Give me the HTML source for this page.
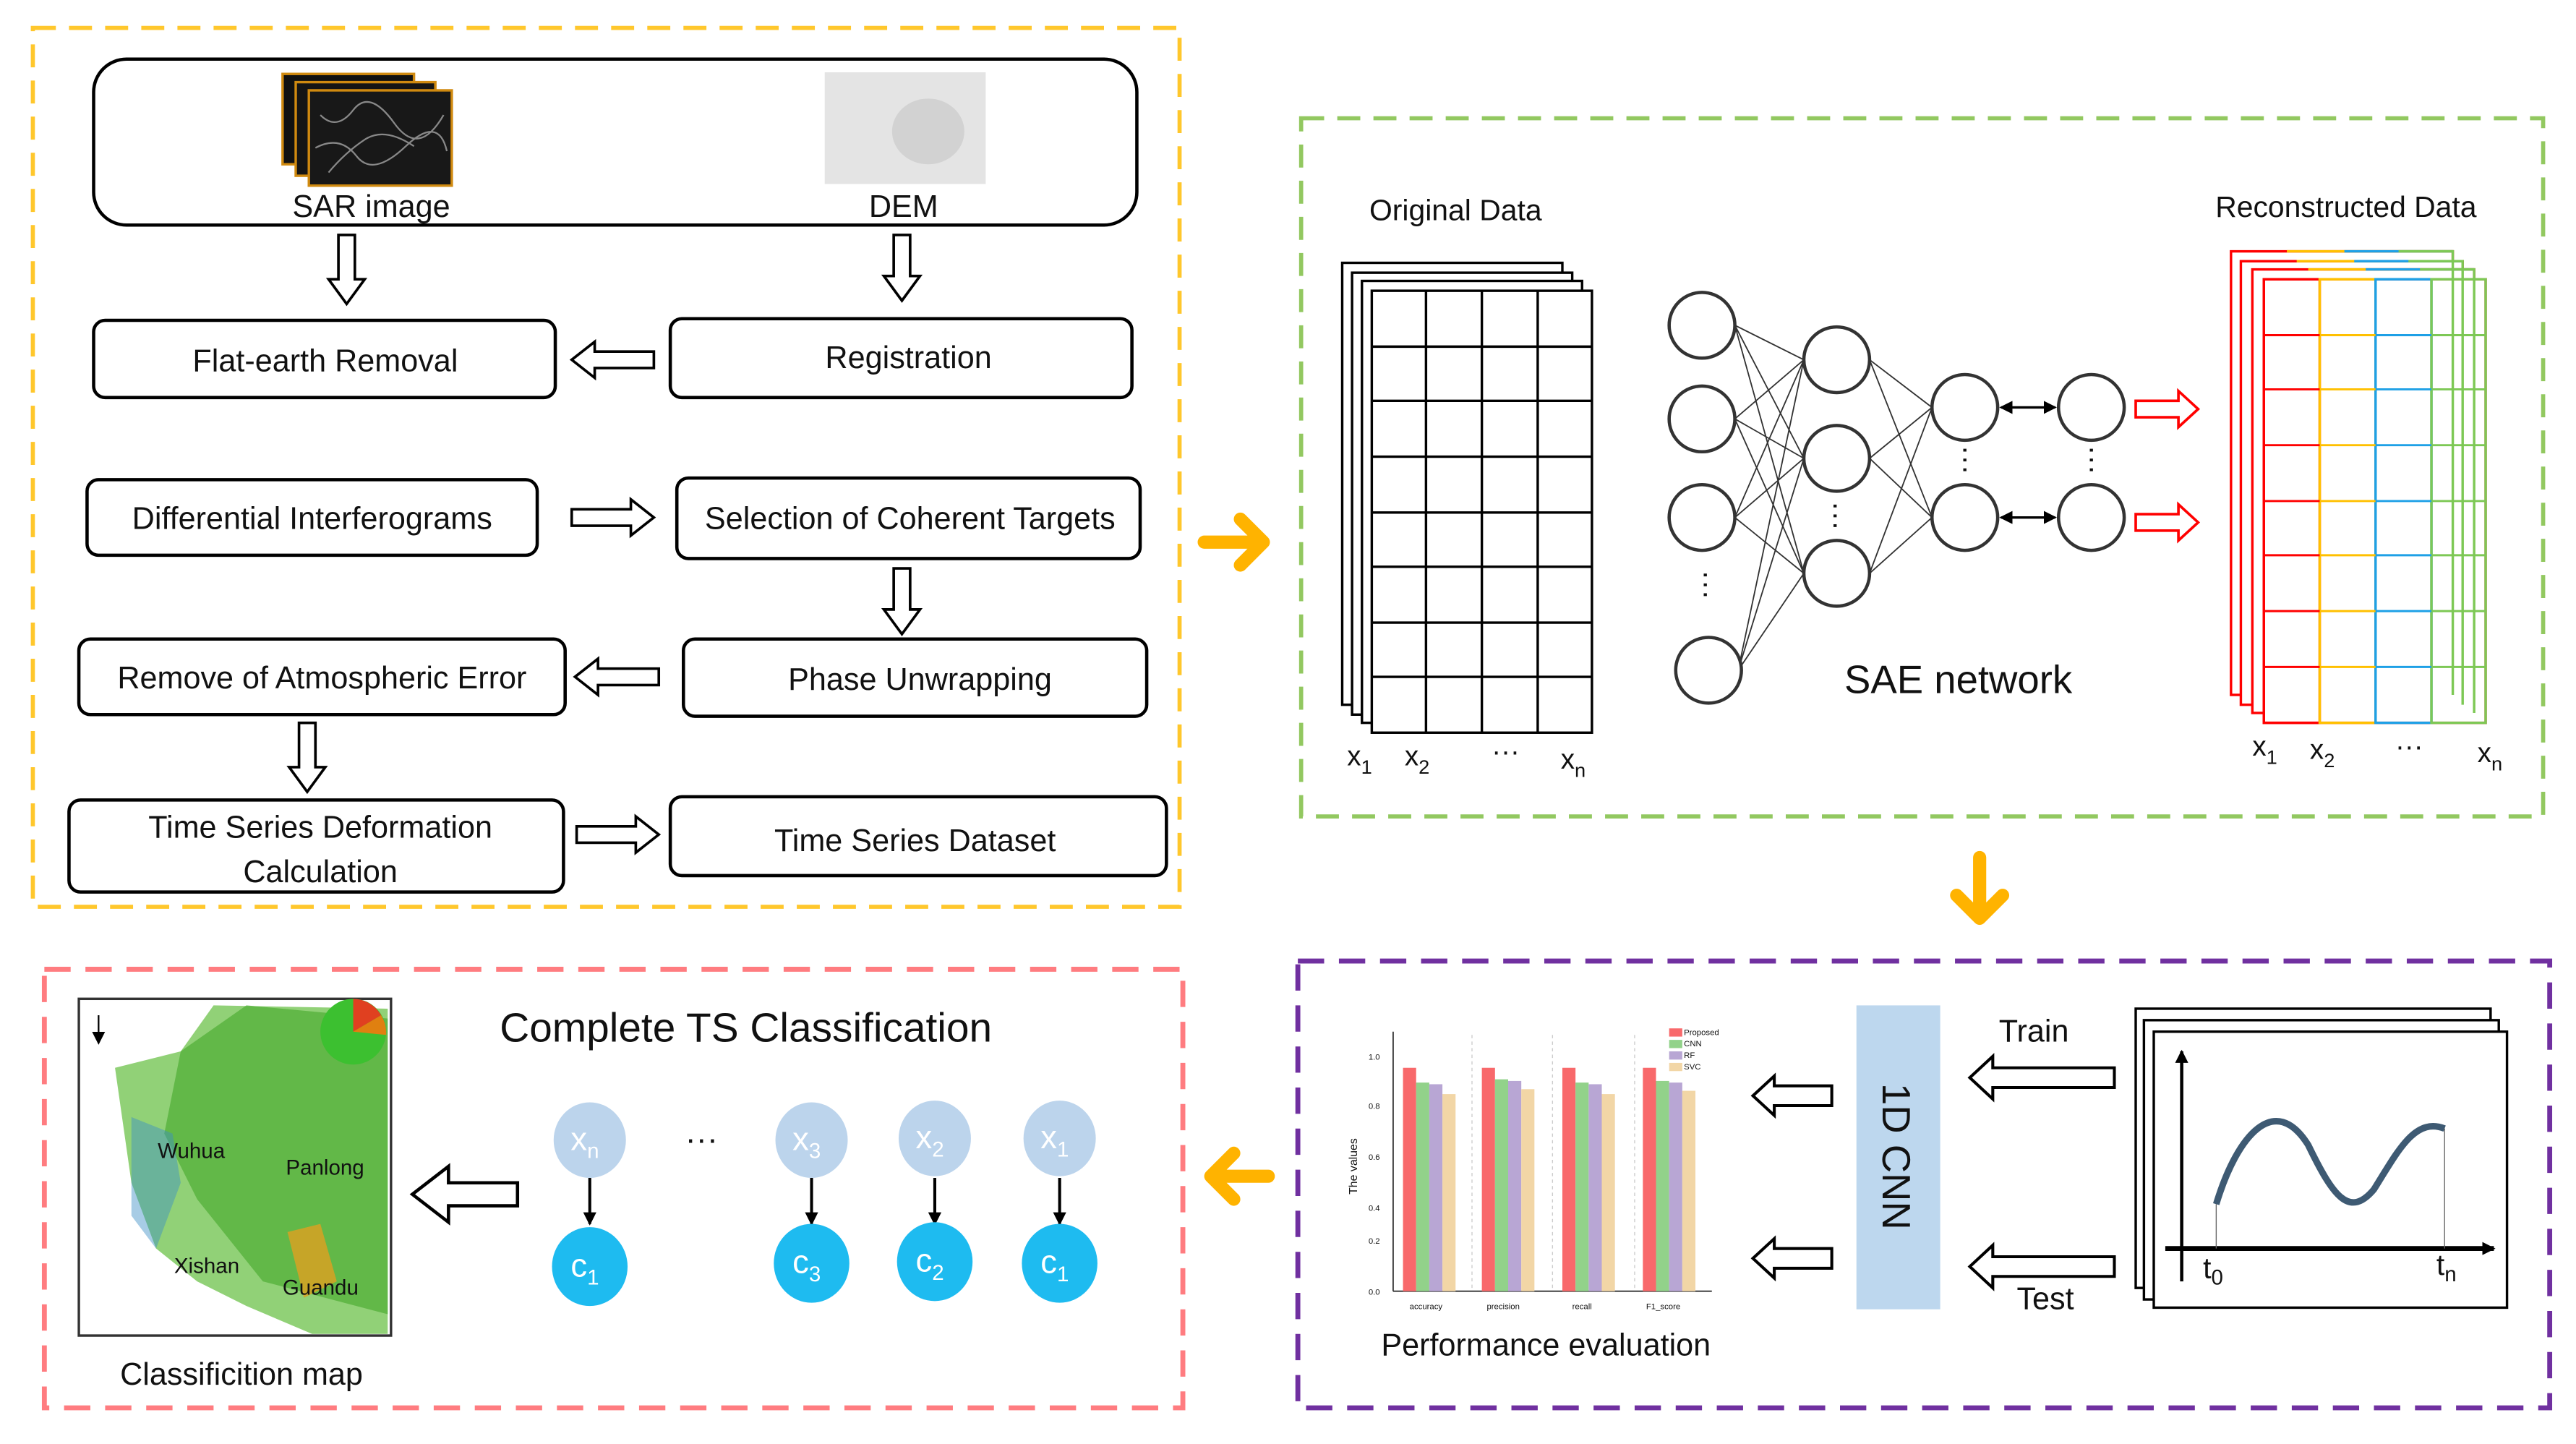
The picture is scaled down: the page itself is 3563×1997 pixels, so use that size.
<!DOCTYPE html>
<html><head><meta charset="utf-8"><style>
html,body{margin:0;padding:0;background:#fff;width:3563px;height:1997px;overflow:hidden}
svg{display:block}
text{font-family:"Liberation Sans",sans-serif;fill:#111}
</style></head><body>
<svg width="3563" height="1997" viewBox="0 0 1568 879" preserveAspectRatio="none" xmlns="http://www.w3.org/2000/svg">
<defs>
<marker id="ah" markerWidth="8" markerHeight="8" refX="7" refY="4" orient="auto" markerUnits="userSpaceOnUse"><path d="M0,0 L8,4 L0,8 Z" fill="#000"/></marker>
<marker id="ah2" markerWidth="8" markerHeight="8" refX="7" refY="4" orient="auto-start-reverse" markerUnits="userSpaceOnUse"><path d="M0,0 L8,4 L0,8 Z" fill="#000"/></marker>
</defs>
<rect width="1568" height="879" fill="#fff"/>
<rect x="20" y="17" width="698" height="535" fill="none" stroke="#FFC72C" stroke-width="2.5" stroke-dasharray="14,8"/>
<rect x="792" y="72" width="756" height="425" fill="none" stroke="#92C860" stroke-width="2.5" stroke-dasharray="14,8"/>
<rect x="790" y="585" width="762" height="272" fill="none" stroke="#7030A0" stroke-width="3" stroke-dasharray="16,9"/>
<rect x="27" y="590" width="693" height="267" fill="none" stroke="#FF7C80" stroke-width="3" stroke-dasharray="16,9"/>

<rect x="57" y="36" width="635" height="101" rx="20" fill="#fff" stroke="#000" stroke-width="2"/>
<rect x="172" y="45" width="80" height="55" fill="#111" stroke="#d08a10" stroke-width="1.5"/>
<rect x="180" y="50" width="85" height="57" fill="#151515" stroke="#d08a10" stroke-width="1.5"/>
<rect x="188" y="55" width="87" height="58" fill="#181818" stroke="#d08a10" stroke-width="1.5"/>
<path d="M195,70 q10,10 20,-3 t25,8 t30,-5 M192,90 q15,-8 25,5 t30,-6 t25,3 M200,105 q10,-12 22,-20 t30,4" stroke="#888" stroke-width="1" fill="none"/>
<rect x="502" y="44" width="98" height="68" fill="#e4e4e4"/>
<ellipse cx="565" cy="80" rx="22" ry="20" fill="#d2d2d2"/>
<text x="226" y="132" font-size="19" text-anchor="middle">SAR image</text>
<text x="550" y="132" font-size="19" text-anchor="middle">DEM</text>

<g fill="#fff" stroke="#000" stroke-width="1.6">
<polygon points="206,143 216,143 216,170 222,170 211,185 200,170 206,170"/>
<polygon points="544,143 554,143 554,168 560,168 549,183 538,168 544,168"/>
<polygon points="398,214 362,214 362,208 348,219 362,230 362,224 398,224"/>
<polygon points="348,310 384,310 384,304 398,315 384,326 384,320 348,320"/>
<polygon points="544,346 554,346 554,371 560,371 549,386 538,371 544,371"/>
<polygon points="401,407 364,407 364,401 350,412 364,423 364,417 401,417"/>
<polygon points="182,440 192,440 192,467 198,467 187,482 176,467 182,467"/>
<polygon points="351,503 387,503 387,497 401,508 387,519 387,513 351,513"/>
</g>
<g fill="#fff" stroke="#000" stroke-width="2">
<rect x="57" y="195" width="281" height="47" rx="7"/>
<rect x="408" y="194" width="281" height="48" rx="7"/>
<rect x="53" y="292" width="274" height="46" rx="7"/>
<rect x="412" y="291" width="282" height="49" rx="7"/>
<rect x="48" y="389" width="296" height="46" rx="7"/>
<rect x="416" y="389" width="282" height="47" rx="7"/>
<rect x="42" y="487" width="301" height="56" rx="7"/>
<rect x="408" y="485" width="302" height="48" rx="7"/>
</g>
<g font-size="19" text-anchor="middle">
<text x="198" y="226">Flat-earth Removal</text>
<text x="553" y="224">Registration</text>
<text x="190" y="322">Differential Interferograms</text>
<text x="554" y="322">Selection of Coherent Targets</text>
<text x="196" y="419">Remove of Atmospheric Error</text>
<text x="560" y="420">Phase Unwrapping</text>
<text x="195" y="510">Time Series Deformation</text>
<text x="195" y="537">Calculation</text>
<text x="557" y="518">Time Series Dataset</text>
</g>

<g stroke="#FFB300" stroke-width="8" fill="none" stroke-linecap="round" stroke-linejoin="round">
<path d="M733,330 L768,330 M755,316 L769,330 L755,344"/>
<path d="M1205,522 L1205,558 M1191,545 L1205,559 L1219,545"/>
<path d="M772,716 L738,716 M751,702 L737,716 L751,730"/>
</g>

<text x="886" y="134" font-size="18" text-anchor="middle">Original Data</text>
<g fill="#fff" stroke="#000" stroke-width="1.5">
<rect x="817" y="160" width="134" height="269"/>
<rect x="823" y="166" width="134" height="269"/>
<rect x="829" y="171" width="134" height="269"/>
<rect x="835" y="177" width="134" height="269"/>
</g>
<g stroke="#000" stroke-width="1.5">
<line x1="868" y1="177" x2="868" y2="446"/><line x1="902" y1="177" x2="902" y2="446"/><line x1="936" y1="177" x2="936" y2="446"/>
<line x1="835" y1="211" x2="969" y2="211"/><line x1="835" y1="244" x2="969" y2="244"/><line x1="835" y1="278" x2="969" y2="278"/><line x1="835" y1="312" x2="969" y2="312"/><line x1="835" y1="345" x2="969" y2="345"/><line x1="835" y1="379" x2="969" y2="379"/><line x1="835" y1="412" x2="969" y2="412"/>
</g>
<g font-size="17"><text x="820" y="466">x<tspan font-size="12" dy="5">1</tspan></text><text x="855" y="466">x<tspan font-size="12" dy="5">2</tspan></text><text x="908" y="463">···</text><text x="950" y="468">x<tspan font-size="12" dy="5">n</tspan></text></g>

<g stroke="#000" stroke-width="0.8" opacity="0.8">
<path d="M1056,198 L1098,219 M1056,198 L1098,279 M1056,198 L1098,349 M1056,255 L1098,219 M1056,255 L1098,279 M1056,255 L1098,349 M1056,315 L1098,219 M1056,315 L1098,279 M1056,315 L1098,349 M1058,408 L1098,219 M1058,408 L1098,279 M1058,408 L1098,349"/>
<path d="M1138,219 L1176,248 M1138,219 L1176,315 M1138,279 L1176,248 M1138,279 L1176,315 M1138,349 L1176,248 M1138,349 L1176,315"/>
</g>
<g stroke="#000" stroke-width="1.5" fill="none">
<line x1="1218" y1="248" x2="1251" y2="248" marker-end="url(#ah)" marker-start="url(#ah2)"/>
<line x1="1218" y1="315" x2="1251" y2="315" marker-end="url(#ah)" marker-start="url(#ah2)"/>
</g>
<g fill="#fff" stroke="#333" stroke-width="2">
<circle cx="1036" cy="198" r="20"/><circle cx="1036" cy="255" r="20"/><circle cx="1036" cy="315" r="20"/><circle cx="1040" cy="408" r="20"/>
<circle cx="1118" cy="219" r="20"/><circle cx="1118" cy="279" r="20"/><circle cx="1118" cy="349" r="20"/>
<circle cx="1196" cy="248" r="20"/><circle cx="1196" cy="315" r="20"/>
<circle cx="1273" cy="248" r="20"/><circle cx="1273" cy="315" r="20"/>
</g>
<g font-size="18" text-anchor="middle"><text x="1039" y="362" transform="rotate(90 1039 356)">···</text><text x="1118" y="320" transform="rotate(90 1118 314)">···</text><text x="1196" y="285" transform="rotate(90 1196 280)">···</text><text x="1273" y="285" transform="rotate(90 1273 280)">···</text></g>
<g fill="#fff" stroke="#f00" stroke-width="1.6">
<polygon points="1300,244 1326,244 1326,238 1338,249 1326,260 1326,254 1300,254"/>
<polygon points="1300,313 1326,313 1326,307 1338,318 1326,329 1326,323 1300,323"/>
</g>
<text x="1192" y="422" font-size="24" text-anchor="middle">SAE network</text>

<text x="1428" y="132" font-size="18" text-anchor="middle">Reconstructed Data</text>
<g fill="#fff" stroke-width="1.5">
<rect x="1358" y="153" width="135" height="270" stroke="#f00"/>
<rect x="1364" y="159" width="135" height="270" stroke="#f00"/>
<rect x="1371" y="164" width="135" height="270" stroke="#f00"/>
<rect x="1378" y="170" width="135" height="270" stroke="#f00"/>
</g>
<g stroke-width="1.5" fill="none">
<path d="M1392,153 H1493 M1398,159 H1499 M1405,164 H1506" stroke="#FFC000"/>
<path d="M1427,153 H1493 M1433,159 H1499 M1440,164 H1506" stroke="#1EA0E6"/>
<path d="M1460,153 H1493 V423 M1466,159 H1499 V429 M1473,164 H1506 V434" stroke="#7DC855"/>
<rect x="1378" y="170" width="34" height="270" stroke="#f00"/>
<rect x="1412" y="170" width="34" height="270" stroke="#FFC000"/>
<rect x="1446" y="170" width="34" height="270" stroke="#1EA0E6"/>
<rect x="1480" y="170" width="33" height="270" stroke="#7DC855"/>
</g>
<g stroke-width="1.3">
<g stroke="#f00"><path d="M1378,204H1412M1378,237H1412M1378,271H1412M1378,305H1412M1378,338H1412M1378,372H1412M1378,406H1412"/></g>
<g stroke="#FFC000"><path d="M1412,204H1446M1412,237H1446M1412,271H1446M1412,305H1446M1412,338H1446M1412,372H1446M1412,406H1446"/></g>
<g stroke="#1EA0E6"><path d="M1446,204H1480M1446,237H1480M1446,271H1480M1446,305H1480M1446,338H1480M1446,372H1480M1446,406H1480"/></g>
<g stroke="#7DC855"><path d="M1480,204H1513M1480,237H1513M1480,271H1513M1480,305H1513M1480,338H1513M1480,372H1513M1480,406H1513"/></g>
</g>
<g font-size="17"><text x="1371" y="460">x<tspan font-size="12" dy="5">1</tspan></text><text x="1406" y="462">x<tspan font-size="12" dy="5">2</tspan></text><text x="1458" y="460">···</text><text x="1508" y="464">x<tspan font-size="12" dy="5">n</tspan></text></g>

<g stroke="#333" stroke-width="0.8">
<line x1="848" y1="628" x2="848" y2="786"/><line x1="848" y1="786" x2="1042" y2="786"/>
</g>
<g stroke="#ccc" stroke-width="0.6" stroke-dasharray="2,2"><line x1="896" y1="630" x2="896" y2="786"/><line x1="945" y1="630" x2="945" y2="786"/><line x1="995" y1="630" x2="995" y2="786"/></g>
<g font-size="5" fill="#333"><text x="833" y="645">1.0</text><text x="833" y="675">0.8</text><text x="833" y="706">0.6</text><text x="833" y="737">0.4</text><text x="833" y="757">0.2</text><text x="833" y="788">0.0</text>
<text x="858" y="797">accuracy</text><text x="905" y="797">precision</text><text x="957" y="797">recall</text><text x="1002" y="797">F1_score</text>
<text x="1025" y="630">Proposed</text><text x="1025" y="637">CNN</text><text x="1025" y="644">RF</text><text x="1025" y="651">SVC</text></g>
<text x="826" y="710" font-size="7" transform="rotate(-90 826 710)" text-anchor="middle">The values</text>
<g>
<rect x="1016" y="626" width="8" height="5" fill="#F8696B"/><rect x="1016" y="633" width="8" height="5" fill="#92D28A"/><rect x="1016" y="640" width="8" height="5" fill="#B8A6D4"/><rect x="1016" y="647" width="8" height="5" fill="#F2D6A6"/>
<rect x="854" y="650" width="8" height="136" fill="#F8696B"/><rect x="862" y="659" width="8" height="127" fill="#92D28A"/><rect x="870" y="660" width="8" height="126" fill="#B8A6D4"/><rect x="878" y="666" width="8" height="120" fill="#F2D6A6"/>
<rect x="902" y="650" width="8" height="136" fill="#F8696B"/><rect x="910" y="657" width="8" height="129" fill="#92D28A"/><rect x="918" y="658" width="8" height="128" fill="#B8A6D4"/><rect x="926" y="663" width="8" height="123" fill="#F2D6A6"/>
<rect x="951" y="650" width="8" height="136" fill="#F8696B"/><rect x="959" y="659" width="8" height="127" fill="#92D28A"/><rect x="967" y="660" width="8" height="126" fill="#B8A6D4"/><rect x="975" y="666" width="8" height="120" fill="#F2D6A6"/>
<rect x="1000" y="650" width="8" height="136" fill="#F8696B"/><rect x="1008" y="658" width="8" height="128" fill="#92D28A"/><rect x="1016" y="659" width="8" height="127" fill="#B8A6D4"/><rect x="1024" y="664" width="8" height="122" fill="#F2D6A6"/>
</g>
<text x="941" y="825" font-size="19" text-anchor="middle">Performance evaluation</text>
<g fill="#fff" stroke="#000" stroke-width="1.8">
<polygon points="1115,661 1080,661 1080,655 1067,667 1080,679 1080,673 1115,673"/>
<polygon points="1115,760 1080,760 1080,754 1067,766 1080,778 1080,772 1115,772"/>
<polygon points="1287,650 1213,650 1213,643 1199,656 1213,669 1213,662 1287,662"/>
<polygon points="1287,765 1213,765 1213,758 1199,771 1213,784 1213,777 1287,777"/>
</g>
<rect x="1130" y="612" width="51" height="185" fill="#BDD7EE"/>
<text x="1146" y="704" font-size="24" transform="rotate(90 1146 704)" text-anchor="middle">1D CNN</text>
<text x="1238" y="634" font-size="19" text-anchor="middle">Train</text>
<text x="1245" y="797" font-size="19" text-anchor="middle">Test</text>
<g fill="#fff" stroke="#000" stroke-width="1.5">
<rect x="1300" y="614" width="216" height="170"/>
<rect x="1305" y="621" width="216" height="170"/>
<rect x="1311" y="628" width="215" height="168"/>
</g>
<line x1="1328" y1="780" x2="1328" y2="640" stroke="#000" stroke-width="2" marker-end="url(#ah)"/>
<line x1="1318" y1="760" x2="1518" y2="760" stroke="#000" stroke-width="3" marker-end="url(#ah)"/>
<path d="M1349,733 C1362,690 1385,665 1405,697 C1420,728 1430,742 1445,724 C1460,700 1470,680 1488,687" stroke="#3E5A73" stroke-width="4" fill="none"/>
<line x1="1349" y1="733" x2="1349" y2="760" stroke="#666" stroke-width="0.6"/><line x1="1488" y1="687" x2="1488" y2="760" stroke="#666" stroke-width="0.6"/>
<text x="1341" y="778" font-size="18">t<tspan font-size="13" dy="4">0</tspan></text>
<text x="1483" y="776" font-size="18">t<tspan font-size="13" dy="4">n</tspan></text>

<rect x="48" y="608" width="190" height="205" fill="#fff" stroke="#333" stroke-width="1.5"/>
<path d="M70,650 L110,640 L130,612 L236,614 L236,812 L190,812 L150,795 L120,780 L95,760 L80,720 Z" fill="#6CC24A" opacity="0.75"/>
<path d="M110,640 L150,612 L236,620 L236,800 L160,780 L120,730 L100,690 Z" fill="#4FAE35" opacity="0.7"/>
<path d="M80,680 L105,690 L110,720 L95,760 L80,740 Z" fill="#3B8FC6" opacity="0.45"/>
<path d="M175,750 L195,745 L205,780 L185,790 Z" fill="#E0A020" opacity="0.8"/>
<circle cx="215" cy="628" r="20" fill="#3CC030"/>
<path d="M215,628 L215,608 A20,20 0 0,1 232,618 Z" fill="#E04020"/>
<path d="M215,628 L232,618 A20,20 0 0,1 235,630 Z" fill="#E08010"/>
<line x1="60" y1="618" x2="60" y2="635" stroke="#000" stroke-width="1" marker-end="url(#ah)"/>
<g font-family="Liberation Serif,serif" font-size="13" fill="#111"><text x="96" y="705">Wuhua</text><text x="174" y="715">Panlong</text><text x="106" y="775">Xishan</text><text x="172" y="788">Guandu</text></g>
<text x="147" y="843" font-size="19" text-anchor="middle">Classificition map</text>
<text x="454" y="634" font-size="25" text-anchor="middle">Complete TS Classification</text>
<polygon points="315,720 273,720 273,710 251,727 273,744 273,734 315,734" fill="#fff" stroke="#000" stroke-width="2"/>
<text x="427" y="700" font-size="20" text-anchor="middle">···</text>
<g stroke="#000" stroke-width="1.8">
<line x1="359" y1="717" x2="359" y2="745" marker-end="url(#ah)"/>
<line x1="494" y1="717" x2="494" y2="745" marker-end="url(#ah)"/>
<line x1="569" y1="717" x2="569" y2="745" marker-end="url(#ah)"/>
<line x1="645" y1="717" x2="645" y2="745" marker-end="url(#ah)"/>
</g>
<g fill="#BCD4EC"><ellipse cx="359" cy="694" rx="22" ry="23"/><ellipse cx="494" cy="694" rx="22" ry="23"/><ellipse cx="569" cy="693" rx="22" ry="23"/><ellipse cx="645" cy="693" rx="22" ry="23"/></g>
<g fill="#1EBBF0"><ellipse cx="359" cy="771" rx="23" ry="24"/><ellipse cx="494" cy="769" rx="23" ry="24"/><ellipse cx="569" cy="768" rx="23" ry="24"/><ellipse cx="645" cy="769" rx="23" ry="24"/></g>
<g font-family="Liberation Serif,serif" font-size="20" text-anchor="middle">
<text x="356" y="700" style="fill:#fff">x<tspan font-size="13" dy="5">n</tspan></text>
<text x="491" y="700" style="fill:#fff">x<tspan font-size="13" dy="5">3</tspan></text>
<text x="566" y="699" style="fill:#fff">x<tspan font-size="13" dy="5">2</tspan></text>
<text x="642" y="699" style="fill:#fff">x<tspan font-size="13" dy="5">1</tspan></text>
<text x="356" y="777" style="fill:#fff">c<tspan font-size="13" dy="5">1</tspan></text>
<text x="491" y="775" style="fill:#fff">c<tspan font-size="13" dy="5">3</tspan></text>
<text x="566" y="774" style="fill:#fff">c<tspan font-size="13" dy="5">2</tspan></text>
<text x="642" y="775" style="fill:#fff">c<tspan font-size="13" dy="5">1</tspan></text>
</g>
</svg>
</body></html>
